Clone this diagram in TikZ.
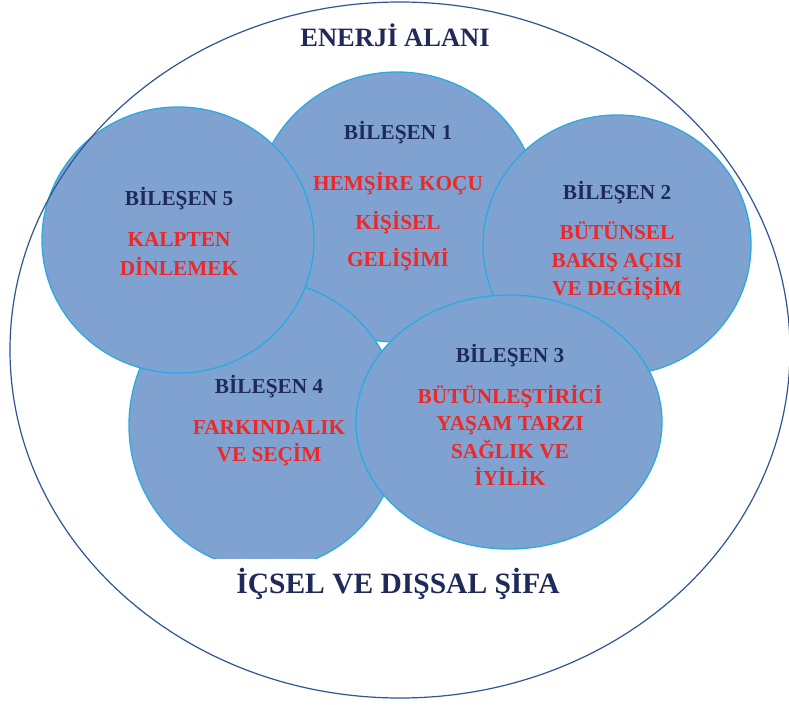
\documentclass[tikz,border=0pt]{standalone}
\usepackage{fontspec}
\setmainfont{Liberation Serif}
\usetikzlibrary{shapes.geometric}
\definecolor{blobfill}{RGB}{128,162,208}
\definecolor{blobedge}{RGB}{41,171,226}
\definecolor{outeredge}{RGB}{47,85,151}
\definecolor{navy}{RGB}{31,42,90}
\definecolor{redtxt}{RGB}{236,40,40}
\newcommand{\lblfont}{\bfseries\fontsize{21.3}{25}\selectfont}
\newcommand{\bigfont}{\bfseries\fontsize{26.5}{30}\selectfont}
\newcommand{\hugefont}{\bfseries\fontsize{29.5}{34}\selectfont}
\tikzset{
  blob/.style={ellipse, draw=blobedge, line width=1.3pt, fill=blobfill, inner sep=0pt},
  head/.style={font=\lblfont, text=navy, inner sep=0pt, text height=14.1pt, text depth=0pt},
  body/.style={font=\lblfont, text=redtxt, inner sep=0pt, text height=14.1pt, text depth=0pt},
  title/.style={font=\bigfont, text=navy, inner sep=0pt, text height=17.5pt, text depth=0pt},
  bottomtitle/.style={font=\hugefont, text=navy, inner sep=0pt, text height=19.5pt, text depth=0pt}
}
\begin{document}
\begin{tikzpicture}[x=1pt,y=-1pt]
\useasboundingbox (0,0) rectangle (789,704);
\fill[white] (0,0) rectangle (789,704);
% component circles
\node[blob, minimum width=282pt, minimum height=270pt] (c1) at (397,207) {};
\node[blob, minimum width=268pt, minimum height=260pt] (c2) at (617,245) {};
\begin{scope}
  \clip (0,0) rectangle (789,558);
  \node[blob, minimum width=272pt, minimum height=288pt] (c4) at (265,425) {};
\end{scope}
\node[blob, minimum width=306pt, minimum height=254pt] (c3) at (509,422) {};
\node[blob, minimum width=272pt, minimum height=266pt] (c5) at (178,240) {};
% outer field
\node[ellipse, draw=outeredge, line width=1.2pt, inner sep=0pt, minimum width=780pt, minimum height=696pt] (outer) at (400,350) {};
% titles
\node[title] (ttop) at (395,38) {ENERJİ ALANI};
\node[bottomtitle] (tbot) at (398,584) {İÇSEL VE DIŞSAL ŞİFA};
% component 1
\node[head] (h1) at (398,132) {BİLEŞEN 1};
\node[body] (b1a) at (398,183) {HEMŞİRE KOÇU};
\node[body] (b1b) at (398,222) {KİŞİSEL};
\node[body] (b1c) at (398,259) {GELİŞİMİ};
% component 2
\node[head] (h2) at (617,192) {BİLEŞEN 2};
\node[body] (b2a) at (617,232) {BÜTÜNSEL};
\node[body] (b2b) at (617,260) {BAKIŞ AÇISI};
\node[body] (b2c) at (617,288) {VE DEĞİŞİM};
% component 3
\node[head] (h3) at (510,355) {BİLEŞEN 3};
\node[body] (b3a) at (510,396) {BÜTÜNLEŞTİRİCİ};
\node[body] (b3b) at (510,423) {YAŞAM TARZI};
\node[body] (b3c) at (510,451) {SAĞLIK VE};
\node[body] (b3d) at (510,478) {İYİLİK};
% component 4
\node[head] (h4) at (269,386) {BİLEŞEN 4};
\node[body] (b4a) at (269,427) {FARKINDALIK};
\node[body] (b4b) at (269,454) {VE SEÇİM};
% component 5
\node[head] (h5) at (179,198) {BİLEŞEN 5};
\node[body] (b5a) at (179,239) {KALPTEN};
\node[body] (b5b) at (179,268) {DİNLEMEK};
\end{tikzpicture}
\end{document}
